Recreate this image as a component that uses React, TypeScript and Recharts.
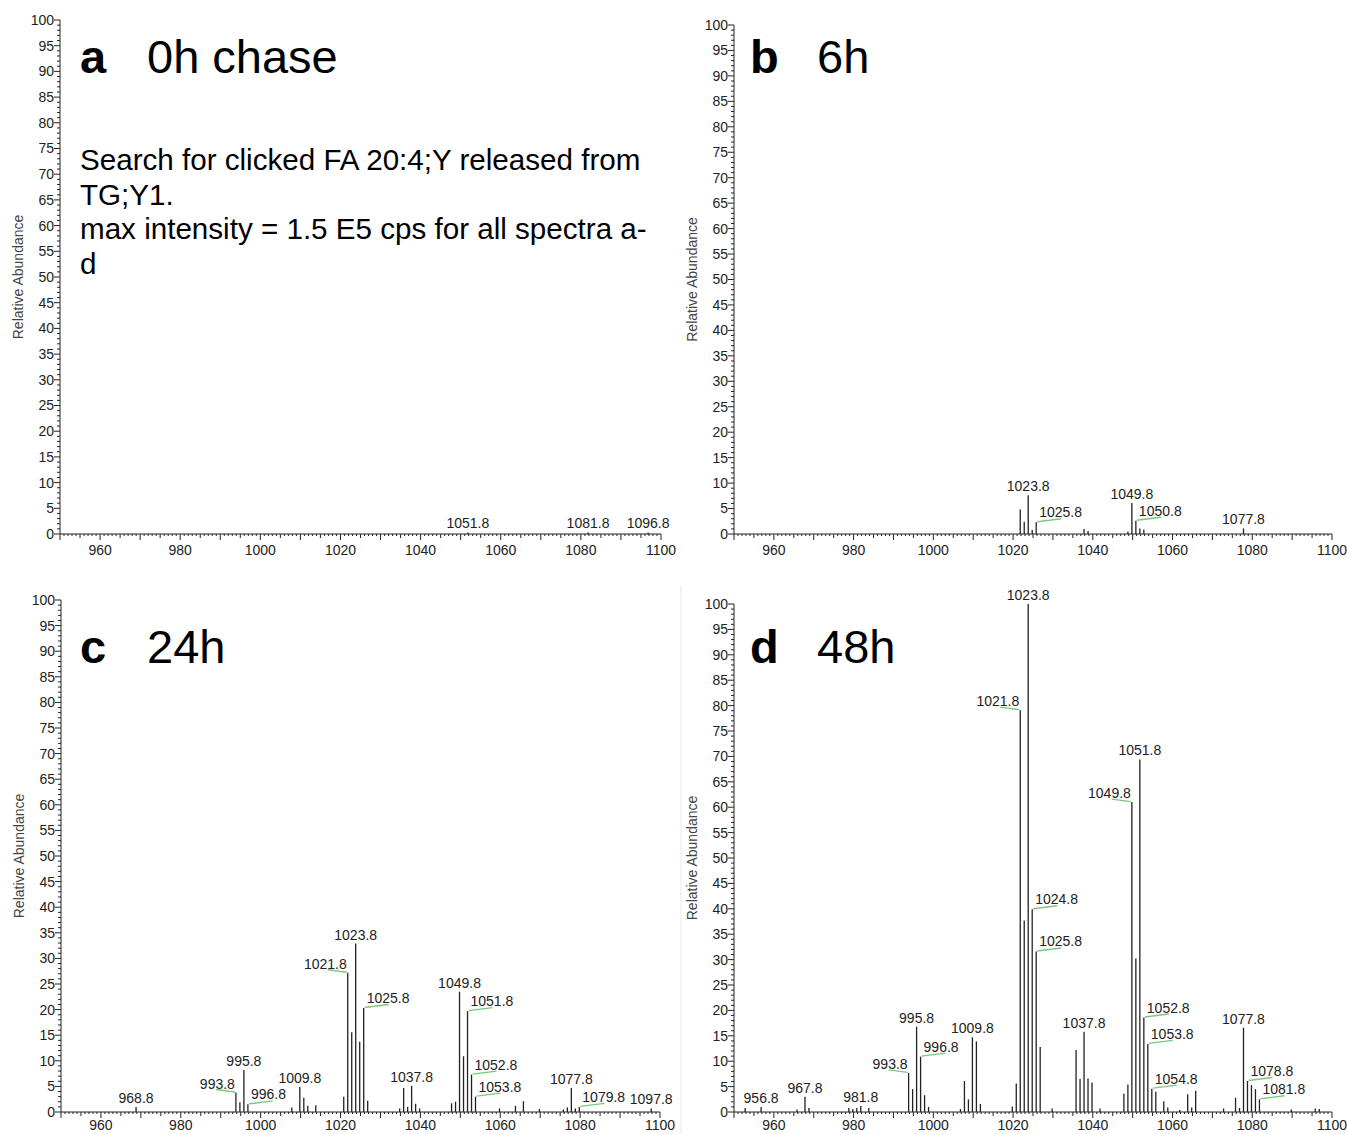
import { Bar, BarChart, XAxis, YAxis } from "recharts";

type Side = "top" | "left" | "right";

// a — 0h chase
const mzA = [1051.8, 1081.8, 1096.8];
const abA = [0.3, 0.3, 0.3];
const tagsA: [number, Side][] = [
  [1051.8, "top"],
  [1081.8, "top"],
  [1096.8, "top"],
];

// b — 6h
const mzB = [1021.8, 1022.8, 1023.8, 1024.8, 1025.8, 1037.8, 1038.8, 1048.8, 1049.8, 1050.8, 1051.8, 1052.8, 1077.8];
const abB = [4.8, 2.4, 7.6, 0.8, 2.3, 1.0, 0.6, 0.5, 6.1, 2.6, 1.1, 0.9, 1.1];
const tagsB: [number, Side][] = [
  [1023.8, "top"],
  [1025.8, "right"],
  [1049.8, "top"],
  [1050.8, "right"],
  [1077.8, "top"],
];

// c — 24h
const mzC = [
  968.8, 993.8, 994.8, 995.8, 996.8, 1007.8, 1009.8, 1010.8, 1011.8, 1013.8, 1020.8, 1021.8, 1022.8, 1023.8,
  1024.8, 1025.8, 1026.8, 1034.8, 1035.8, 1036.8, 1037.8, 1038.8, 1039.8, 1047.8, 1048.8, 1049.8, 1050.8,
  1051.8, 1052.8, 1053.8, 1059.8, 1063.8, 1065.8, 1069.8, 1075.8, 1076.8, 1077.8, 1078.8, 1079.8, 1097.8,
];
const abC = [
  1.0, 3.8, 1.9, 8.2, 1.5, 0.9, 4.9, 2.8, 1.2, 1.3, 3.0, 27.2, 15.6, 32.9, 13.7, 20.3, 2.2, 0.7, 4.7, 1.0, 5.1,
  1.6, 0.7, 1.7, 2.0, 23.5, 10.9, 19.7, 7.3, 3.0, 0.7, 1.2, 2.1, 0.6, 0.5, 0.9, 4.7, 0.7, 1.0, 0.7,
];
const tagsC: [number, Side][] = [
  [968.8, "top"],
  [993.8, "left"],
  [995.8, "top"],
  [996.8, "right"],
  [1009.8, "top"],
  [1021.8, "left"],
  [1023.8, "top"],
  [1025.8, "right"],
  [1037.8, "top"],
  [1049.8, "top"],
  [1051.8, "right"],
  [1052.8, "right"],
  [1053.8, "right"],
  [1077.8, "top"],
  [1079.8, "right"],
  [1097.8, "top"],
];

// d — 48h
const mzD = [
  952.8, 956.8, 965.8, 967.8, 968.8, 978.8, 979.8, 980.8, 981.8, 983.8, 993.8, 994.8, 995.8, 996.8, 997.8, 998.8,
  1006.8, 1007.8, 1008.8, 1009.8, 1010.8, 1011.8, 1019.8, 1020.8, 1021.8, 1022.8, 1023.8, 1024.8, 1025.8, 1026.8,
  1029.8, 1035.8, 1036.8, 1037.8, 1038.8, 1039.8, 1041.8, 1047.8, 1048.8, 1049.8, 1050.8, 1051.8, 1052.8, 1053.8,
  1054.8, 1055.8, 1057.8, 1058.8, 1061.8, 1063.8, 1064.8, 1065.8, 1072.8, 1075.8, 1076.8, 1077.8, 1078.8, 1079.8,
  1080.8, 1081.8, 1089.8, 1095.8, 1096.8,
];
const abD = [
  0.8, 1.0, 0.5, 3.0, 0.8, 0.8, 0.6, 0.8, 1.2, 0.8, 7.7, 4.5, 16.8, 10.9, 3.3, 1.0, 0.6, 6.1, 2.5, 14.7, 13.9,
  1.6, 1.1, 5.6, 79.1, 37.7, 100, 39.9, 31.6, 12.8, 0.7, 12.2, 6.5, 15.8, 6.6, 5.8, 0.7, 3.6, 5.4, 61.0, 30.2,
  69.4, 18.6, 13.4, 4.6, 4.0, 2.1, 0.9, 0.4, 3.5, 0.9, 4.2, 0.7, 2.8, 0.8, 16.6, 6.1, 5.3, 4.5, 2.5, 0.5, 0.7, 0.6,
];
const tagsD: [number, Side][] = [
  [956.8, "top"],
  [967.8, "top"],
  [981.8, "top"],
  [993.8, "left"],
  [995.8, "top"],
  [996.8, "right"],
  [1009.8, "top"],
  [1021.8, "left"],
  [1023.8, "top"],
  [1024.8, "right"],
  [1025.8, "right"],
  [1037.8, "top"],
  [1049.8, "left"],
  [1051.8, "top"],
  [1052.8, "right"],
  [1053.8, "right"],
  [1054.8, "right"],
  [1077.8, "top"],
  [1078.8, "right"],
  [1081.8, "right"],
];

const annotation = [
  "Search for clicked FA 20:4;Y released from",
  "TG;Y1.",
  "max intensity = 1.5 E5 cps for all spectra a-",
  "d",
];

const xTicks = Array.from({ length: 151 }, (_, i) => 950 + i);
const yTicks = Array.from({ length: 101 }, (_, i) => i);

const FONT = '"Liberation Sans", Arial, sans-serif';
const INK = "#222";
const GREEN = "#7cc87c";

function makeXTick(labelOffset: number) {
  return function XTick({ x, y, payload }: any) {
    const v = payload.value;
    const len = v % 10 === 0 ? 6 : v % 5 === 0 ? 4 : 2;
    return (
      <g>
        <line x1={x} x2={x} y1={y} y2={y + len} stroke={INK} strokeWidth={1} />
        {v % 20 === 0 && v >= 960 && (
          <text x={x} y={y + labelOffset} textAnchor="middle" fontSize={14} fill={INK} fontFamily={FONT}>
            {v}
          </text>
        )}
      </g>
    );
  };
}

const xTickTop = makeXTick(21);
const xTickBottom = makeXTick(18);

function YTick({ x, y, payload }: any) {
  const v = payload.value;
  const major = v % 5 === 0;
  return (
    <g>
      <line x1={x - (major ? 6 : 3)} x2={x} y1={y} y2={y} stroke={INK} strokeWidth={1} />
      {major && (
        <text x={x - 6} y={y} dy="0.35em" textAnchor="end" fontSize={14} fill={INK} fontFamily={FONT}>
          {v}
        </text>
      )}
    </g>
  );
}

function Stick(props: any) {
  const { x, y, width, height, tags } = props;
  const mz = props.payload?.mz ?? props.mz;
  const cx = x + width / 2;
  const side = (tags as [number, Side][]).find((t) => t[0] === mz)?.[1];
  const text = mz.toFixed(1);
  return (
    <g>
      <line x1={cx} x2={cx} y1={y} y2={y + height} stroke={INK} strokeWidth={1.3} />
      {side === "top" && (
        <text x={cx} y={y - 4} textAnchor="middle" fontSize={14} fill={INK} fontFamily={FONT}>
          {text}
        </text>
      )}
      {side === "left" && (
        <g>
          <line x1={cx - 20} y1={y - 3} x2={cx - 1} y2={y - 0.5} stroke={GREEN} strokeWidth={1.4} />
          <text x={cx - 1} y={y - 4} textAnchor="end" fontSize={14} fill={INK} fontFamily={FONT}>
            {text}
          </text>
        </g>
      )}
      {side === "right" && (
        <g>
          <line x1={cx + 1} y1={y - 0.5} x2={cx + 25} y2={y - 3.5} stroke={GREEN} strokeWidth={1.4} />
          <text x={cx + 3} y={y - 5} textAnchor="start" fontSize={14} fill={INK} fontFamily={FONT}>
            {text}
          </text>
        </g>
      )}
    </g>
  );
}

type PanelProps = {
  mz: number[];
  ab: number[];
  tags: [number, Side][];
  left: number;
  top: number;
  width: number;
  height: number;
  margin: { top: number; right: number; left: number };
  axisHeight: number;
  axisWidth: number;
  labelDx: number;
  xTick: (p: any) => any;
};

function Spectrum({ mz, ab, tags, left, top, width, height, margin, axisHeight, axisWidth, labelDx, xTick }: PanelProps) {
  const data = mz.map((m, i) => ({ mz: m, ab: ab[i] }));
  return (
    <div style={{ position: "absolute", left, top }}>
      <BarChart width={width} height={height} data={data} margin={{ ...margin, bottom: 0 }} barSize={2}>
        <XAxis
          dataKey="mz"
          type="number"
          domain={[950, 1100]}
          ticks={xTicks}
          interval={0}
          height={axisHeight}
          tickSize={0}
          tickMargin={0}
          tickLine={false}
          axisLine={{ stroke: INK }}
          tick={xTick}
        />
        <YAxis
          type="number"
          domain={[0, 100]}
          ticks={yTicks}
          interval={0}
          width={axisWidth}
          tickSize={0}
          tickMargin={0}
          tickLine={false}
          axisLine={{ stroke: INK }}
          tick={YTick}
          label={{
            value: "Relative Abundance",
            angle: -90,
            position: "center",
            dx: labelDx,
            fill: "#444",
            fontSize: 14,
            fontFamily: FONT,
          }}
        />
        <Bar dataKey="ab" isAnimationActive={false} shape={(p: any) => <Stick {...p} tags={tags} />} />
      </BarChart>
    </div>
  );
}

function Title({ x, y, tag, text }: { x: number; y: number; tag: string; text: string }) {
  return (
    <g fontFamily={FONT} fontSize={47} fill="#000">
      <text x={x} y={y} fontWeight="bold">
        {tag}
      </text>
      <text x={x + 67} y={y}>
        {text}
      </text>
    </g>
  );
}

export default function App() {
  return (
    <div style={{ position: "absolute", left: 0, top: 0, width: 1347, height: 1134, background: "#fff", fontFamily: FONT }}>
      <Spectrum
        mz={mzA}
        ab={abA}
        tags={tagsA}
        left={0}
        top={0}
        width={680}
        height={575}
        margin={{ top: 20, right: 19, left: 0 }}
        axisHeight={41}
        axisWidth={60}
        labelDx={-12}
        xTick={xTickTop}
      />
      <Spectrum
        mz={mzB}
        ab={abB}
        tags={tagsB}
        left={680}
        top={0}
        width={667}
        height={575}
        margin={{ top: 25, right: 15, left: 0 }}
        axisHeight={41}
        axisWidth={54}
        labelDx={-15}
        xTick={xTickTop}
      />
      <Spectrum
        mz={mzC}
        ab={abC}
        tags={tagsC}
        left={0}
        top={575}
        width={680}
        height={559}
        margin={{ top: 25, right: 20, left: 0 }}
        axisHeight={22}
        axisWidth={61}
        labelDx={-11}
        xTick={xTickBottom}
      />
      <Spectrum
        mz={mzD}
        ab={abD}
        tags={tagsD}
        left={680}
        top={575}
        width={667}
        height={559}
        margin={{ top: 29, right: 15, left: 0 }}
        axisHeight={22}
        axisWidth={54}
        labelDx={-15}
        xTick={xTickBottom}
      />
      <svg width={1347} height={1134} style={{ position: "absolute", left: 0, top: 0, pointerEvents: "none" }}>
        <line x1={681} x2={681} y1={585} y2={1134} stroke="#e8e8e8" strokeWidth={1} />
        <Title x={80} y={73} tag="a" text="0h chase" />
        <Title x={750} y={73} tag="b" text="6h" />
        <Title x={80} y={663} tag="c" text="24h" />
        <Title x={750} y={663} tag="d" text="48h" />
        <g fontFamily={FONT} fontSize={29.6} fill="#000">
          {annotation.map((line, i) => (
            <text key={i} x={80} y={170 + i * 34.5}>
              {line}
            </text>
          ))}
        </g>
      </svg>
    </div>
  );
}
